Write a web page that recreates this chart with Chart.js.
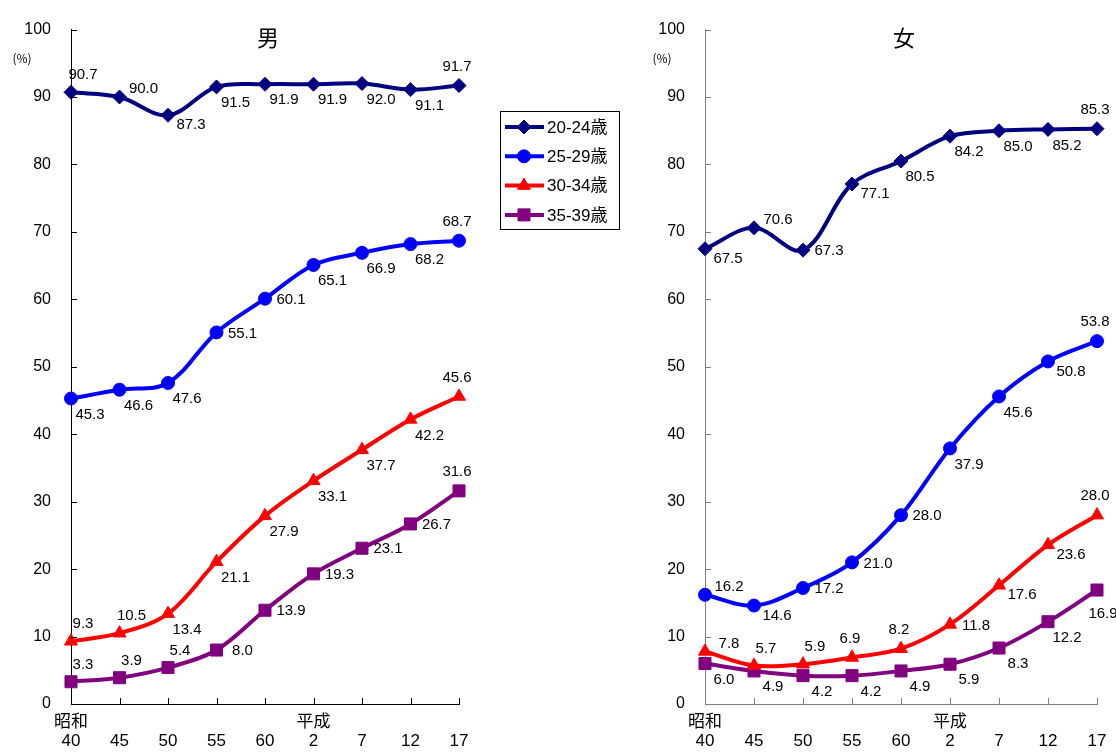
<!DOCTYPE html>
<html>
<head>
<meta charset="utf-8">
<script src="https://cdn.jsdelivr.net/npm/chart.js@4.4.1/dist/chart.umd.min.js"></script>
<style>
  body { margin: 0; background: #fff; }
  #wrap { position: relative; width: 1116px; height: 754px; overflow: hidden; }
  #cm { position: absolute; left: 0; top: 0; }
  #cf { position: absolute; left: 640px; top: 0; }
</style>
</head>
<body>
<div id="wrap">
  <canvas id="cm" width="640" height="754"></canvas>
  <canvas id="cf" width="476" height="754"></canvas>
</div>
<script>
// 年齢別未婚率の推移 (男・女)
const years = ['40', '45', '50', '55', '60', '2', '7', '12', '17'];
const eras = ['昭和', '', '', '', '', '平成', '', '', ''];
const ageGroups = ['20-24歳', '25-29歳', '30-34歳', '35-39歳'];

const male20_24 = [90.7, 90.0, 87.3, 91.5, 91.9, 91.9, 92.0, 91.1, 91.7];
const male25_29 = [45.3, 46.6, 47.6, 55.1, 60.1, 65.1, 66.9, 68.2, 68.7];
const male30_34 = [9.3, 10.5, 13.4, 21.1, 27.9, 33.1, 37.7, 42.2, 45.6];
const male35_39 = [3.3, 3.9, 5.4, 8.0, 13.9, 19.3, 23.1, 26.7, 31.6];

const female20_24 = [67.5, 70.6, 67.3, 77.1, 80.5, 84.2, 85.0, 85.2, 85.3];
const female25_29 = [16.2, 14.6, 17.2, 21.0, 28.0, 37.9, 45.6, 50.8, 53.8];
const female30_34 = [7.8, 5.7, 5.9, 6.9, 8.2, 11.8, 17.6, 23.6, 28.0];
const female35_39 = [6.0, 4.9, 4.2, 4.2, 4.9, 5.9, 8.3, 12.2, 16.9];

// where each value label sits relative to its point
const labelOffsets = {
  a: [-2, -19], ar: [12, -17], ur: [24, -8], r: [26, 1],
  dr: [23, 10], br: [19, 16], b: [6, 24]
};
const maleLabelPos = [
  ['ar', 'ur', 'dr', 'br', 'br', 'br', 'br', 'br', 'a'],
  ['br', 'br', 'br', 'r', 'r', 'br', 'br', 'br', 'a'],
  ['ar', 'ar', 'br', 'br', 'br', 'br', 'br', 'br', 'a'],
  ['ar', 'ar', 'ar', 'r', 'r', 'r', 'r', 'r', 'a']
];
const femaleLabelPos = [
  ['dr', 'ur', 'r', 'dr', 'br', 'br', 'br', 'br', 'a'],
  ['ur', 'dr', 'r', 'r', 'r', 'br', 'br', 'dr', 'a'],
  ['ur', 'ar', 'ar', 'a', 'a', 'r', 'dr', 'dr', 'a'],
  ['br', 'br', 'br', 'br', 'br', 'br', 'br', 'br', 'b']
];

const colors = ['#000080', '#0000FF', '#FF0000', '#800080'];
const markers = ['rectRot', 'circle', 'triangle', 'rect'];
const markerSizes = [7, 6.5, 7.5, 8.5];
const numFont = "'Liberation Sans', 'Noto Sans CJK JP', sans-serif";
const jpFont = "'Noto Sans CJK JP', sans-serif";

function buildDatasets(series) {
  return series.map((data, i) => ({
    label: ageGroups[i],
    data: data,
    borderColor: colors[i],
    backgroundColor: colors[i],
    borderWidth: 4,
    pointStyle: markers[i],
    pointRadius: markerSizes[i],
    pointBorderWidth: 1,
    pointHoverRadius: markerSizes[i],
    tension: 0.35,
    clip: false
  }));
}

function decorPlugin(title, labelPos, axisColor, showLegend) {
  return {
    id: 'decor',
    afterDatasetsDraw(chart) {
      const ctx = chart.ctx;
      const area = chart.chartArea;
      const xs = chart.scales.x, ys = chart.scales.y;
      ctx.save();
      // inside tick marks
      ctx.strokeStyle = axisColor;
      ctx.lineWidth = 1;
      ctx.beginPath();
      for (let v = 10; v <= 100; v += 10) {
        const y = Math.round(ys.getPixelForValue(v)) + 0.5;
        ctx.moveTo(area.left, y);
        ctx.lineTo(area.left + 6, y);
      }
      years.forEach((_, i) => {
        const x = Math.round(xs.getPixelForValue(i)) + 0.5;
        ctx.moveTo(x, area.bottom);
        ctx.lineTo(x, area.bottom - 6);
      });
      ctx.stroke();
      // unit and title
      ctx.fillStyle = '#000';
      ctx.textAlign = 'center';
      ctx.textBaseline = 'middle';
      ctx.font = '12px ' + jpFont;
      ctx.fillText('(%)', 22, 58);
      ctx.font = '22px ' + jpFont;
      ctx.fillText(title, (area.left + area.right) / 2 + 3, 38);
      // value labels
      ctx.font = '15px ' + numFont;
      chart.data.datasets.forEach((ds, di) => {
        const meta = chart.getDatasetMeta(di);
        meta.data.forEach((pt, i) => {
          const off = labelOffsets[labelPos[di][i]];
          ctx.fillText(ds.data[i].toFixed(1), pt.x + off[0], pt.y + off[1]);
        });
      });
      // legend box
      if (showLegend) {
        ctx.fillStyle = '#fff';
        ctx.fillRect(500.5, 111.5, 119, 118);
        ctx.strokeStyle = '#000';
        ctx.lineWidth = 1;
        ctx.strokeRect(500.5, 111.5, 119, 118);
        ctx.textAlign = 'left';
        ctx.font = '17px ' + numFont;
        ageGroups.forEach((g, i) => {
          const y = 127 + i * 29.3;
          ctx.strokeStyle = colors[i];
          ctx.fillStyle = colors[i];
          ctx.lineWidth = 4;
          ctx.beginPath();
          ctx.moveTo(505, y);
          ctx.lineTo(544, y);
          ctx.stroke();
          ctx.lineWidth = 1;
          Chart.helpers.drawPoint(ctx, { pointStyle: markers[i], rotation: 0, radius: markerSizes[i], borderWidth: 1 }, 524, y);
          ctx.fillStyle = '#000';
          ctx.fillText(g, 547, y + 1);
        });
      }
      ctx.restore();
    }
  };
}

function makeChart(canvasId, series, title, labelPos, axisColor, yWidth, rightPad, showLegend) {
  return new Chart(document.getElementById(canvasId), {
    type: 'line',
    data: { labels: years, datasets: buildDatasets(series) },
    options: {
      responsive: false,
      animation: false,
      layout: { padding: { top: 23, right: rightPad, left: 0, bottom: 0 } },
      plugins: { legend: { display: false }, tooltip: { enabled: false } },
      scales: {
        x: {
          offset: false,
          grid: { display: true, drawOnChartArea: false, drawTicks: false },
          border: { display: true, color: axisColor, width: 1 },
          ticks: {
            autoSkip: false,
            maxRotation: 0,
            padding: 9,
            color: '#000',
            font: { size: 17, family: numFont, lineHeight: 1.1 },
            callback: (v, i) => [eras[i], years[i]]
          },
          afterFit: s => { s.height = 50; }
        },
        y: {
          min: 0,
          max: 100,
          grid: { display: true, drawOnChartArea: false, drawTicks: false },
          border: { display: true, color: axisColor, width: 1 },
          ticks: {
            stepSize: 10,
            padding: 20,
            color: '#000',
            font: { size: 16, family: numFont }
          },
          afterFit: s => { s.width = yWidth; }
        }
      }
    },
    plugins: [decorPlugin(title, labelPos, axisColor, showLegend)]
  });
}

makeChart('cm', [male20_24, male25_29, male30_34, male35_39], '男', maleLabelPos, '#000', 71, 181, true);
makeChart('cf', [female20_24, female25_29, female30_34, female35_39], '女', femaleLabelPos, '#808080', 65, 19, false);
</script>
</body>
</html>
